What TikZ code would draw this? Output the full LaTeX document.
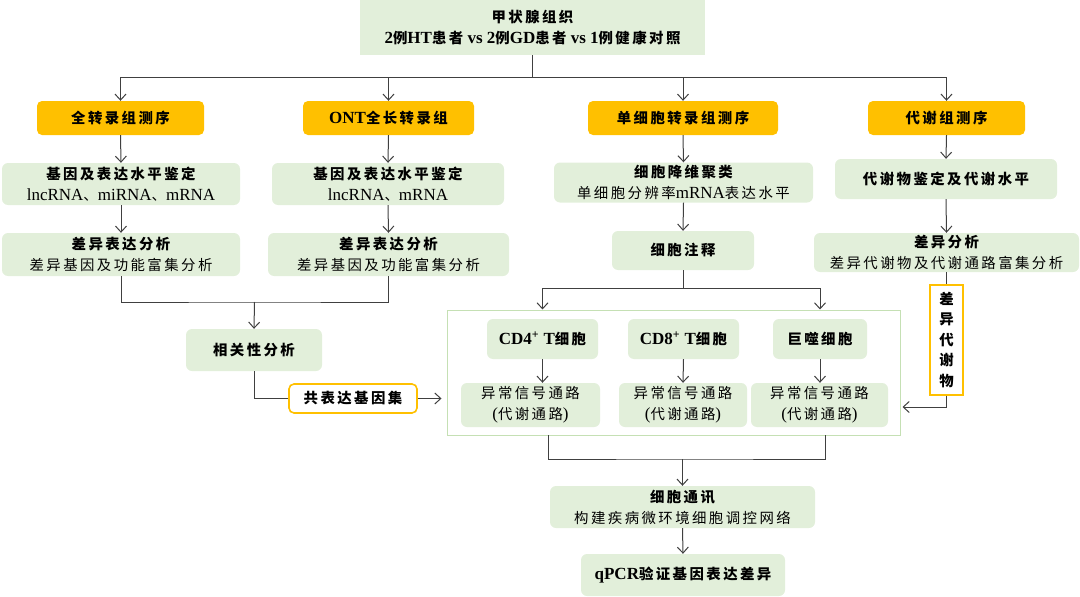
\documentclass[tikz,border=0pt]{standalone}
\usepackage{fontspec}
\setmainfont{Liberation Serif}
\newfontfamily\cjk{Noto Sans CJK SC}[Scale=0.847,LetterSpace=17]
\usetikzlibrary{arrows.meta,calc}
\definecolor{gfill}{HTML}{E2EFDA}
\definecolor{ofill}{HTML}{FFC000}
\definecolor{lcol}{HTML}{404040}
\definecolor{cborder}{HTML}{C5E0B4}
\newcommand{\zh}[1]{{\cjk #1}}
\begin{document}
\begin{tikzpicture}[x=1pt,y=-1pt,
  gbox/.style={fill=gfill,rounded corners=6pt,inner sep=0pt,align=center,font=\fontsize{17}{21}\selectfont,text=black},
  obox/.style={fill=ofill,rounded corners=5pt,inner sep=0pt,align=center,font=\fontsize{17}{21}\selectfont\bfseries,text=black,minimum height=34pt},
  wbox/.style={fill=white,draw=ofill,line width=1.6pt,rounded corners=5pt,inner sep=0pt,align=center,font=\fontsize{17}{21}\selectfont\bfseries,text=black},
  ln/.style={draw=lcol,line width=1pt},
  arr/.style={draw=lcol,line width=1pt,-{Straight Barb[length=6pt,width=11pt]}}]
\useasboundingbox (0,0) rectangle (1080,597);

% top
\node[gbox,rounded corners=0pt,minimum width=345pt,minimum height=55pt] (top) at (532.5,27.5)
  {\bfseries\zh{甲状腺组织}\\\bfseries 2\zh{例}HT\zh{患者} vs 2\zh{例}GD\zh{患者} vs 1\zh{例健康对照}};

% orange headers
\node[obox,minimum width=167pt] (o1) at (120.5,118) {\zh{全转录组测序}};
\node[obox,minimum width=171pt] (o2) at (388.5,118) {ONT\zh{全长转录组}};
\node[obox,minimum width=190pt] (o3) at (683,118) {\zh{单细胞转录组测序}};
\node[obox,minimum width=157pt] (o4) at (946.5,118) {\zh{代谢组测序}};

% row 1
\node[gbox,minimum width=238pt,minimum height=42pt] (g1) at (121,184)
  {\bfseries\zh{基因及表达水平鉴定}\\\mdseries lncRNA\zh{、}miRNA\zh{、}mRNA};
\node[gbox,minimum width=232pt,minimum height=42pt] (g2) at (388,184)
  {\bfseries\zh{基因及表达水平鉴定}\\\mdseries lncRNA\zh{、}mRNA};
\node[gbox,minimum width=259pt,minimum height=40pt] (g3) at (683.5,182.5)
  {\bfseries\zh{细胞降维聚类}\\\mdseries\zh{单细胞分辨率}mRNA\zh{表达水平}};
\node[gbox,minimum width=222pt,minimum height=40pt] (g4) at (946,179)
  {\bfseries\zh{代谢物鉴定及代谢水平}};

% row 2
\node[gbox,minimum width=238pt,minimum height=43pt] (g5) at (121,254.5)
  {\bfseries\zh{差异表达分析}\\\mdseries\zh{差异基因及功能富集分析}};
\node[gbox,minimum width=241pt,minimum height=43pt] (g6) at (388.5,254.5)
  {\bfseries\zh{差异表达分析}\\\mdseries\zh{差异基因及功能富集分析}};
\node[gbox,minimum width=142pt,minimum height=39pt] (g7) at (683,250.5)
  {\bfseries\zh{细胞注释}};
\node[gbox,minimum width=265pt,minimum height=39pt] (g8) at (946.5,252.5)
  {\bfseries\zh{差异分析}\\\mdseries\zh{差异代谢物及代谢通路富集分析}};

% correlation
\node[gbox,minimum width=136pt,minimum height=42pt] (cor) at (254,350) {\bfseries\zh{相关性分析}};
\node[wbox,minimum width=128pt,minimum height=29pt] (co) at (353,398.5) {\zh{共表达基因集}};

% container
\node[draw=cborder,line width=1pt,fill=white,inner sep=0pt,minimum width=453pt,minimum height=125pt] (cont) at (673.5,372.5) {};
\node[gbox,minimum width=111pt,minimum height=40pt] (cd4) at (542.5,339) {\bfseries CD4\textsuperscript{+} T\zh{细胞}};
\node[gbox,minimum width=111pt,minimum height=40pt] (cd8) at (683.5,339) {\bfseries CD8\textsuperscript{+} T\zh{细胞}};
\node[gbox,minimum width=94pt,minimum height=40pt] (mac) at (820,339) {\bfseries\zh{巨噬细胞}};
\node[gbox,minimum width=139pt,minimum height=44pt] (a1) at (530.5,405) {\zh{异常信号通路}\\(\zh{代谢通路})};
\node[gbox,minimum width=128pt,minimum height=44pt] (a2) at (683,405) {\zh{异常信号通路}\\(\zh{代谢通路})};
\node[gbox,minimum width=137pt,minimum height=44pt] (a3) at (819.5,405) {\zh{异常信号通路}\\(\zh{代谢通路})};

% differential metabolites vertical
\node[wbox,rounded corners=0pt,line width=1.4pt,minimum width=33pt,minimum height=110pt,font=\fontsize{17}{20.5}\selectfont\bfseries] (dm) at (946.5,340)
  {\zh{差}\\\zh{异}\\\zh{代}\\\zh{谢}\\\zh{物}};

% bottom
\node[gbox,minimum width=265pt,minimum height=42pt] (cc) at (682.5,507)
  {\bfseries\zh{细胞通讯}\\\mdseries\zh{构建疾病微环境细胞调控网络}};
\node[gbox,minimum width=204pt,minimum height=42pt] (qp) at (683,575)
  {\bfseries qPCR\zh{验证基因表达差异}};

% connectors top
\draw[arr] (top.south) -- ++(0,22) -| (o1.north);
\draw[arr] (top.south) -- ++(0,22) -| (o2.north);
\draw[arr] (top.south) -- ++(0,22) -| (o3.north);
\draw[arr] (top.south) -- ++(0,22) -| (o4.north);

\draw[arr] (o1.south) -- (g1.north);
\draw[arr] (o2.south) -- (g2.north);
\draw[arr] (o3.south) -- (g3.north);
\draw[arr] (o4.south) -- (g4.north);
\draw[arr] (g1.south) -- (g5.north);
\draw[arr] (g2.south) -- (g6.north);
\draw[arr] (g3.south) -- (g7.north);
\draw[arr] (g4.south) -- (g8.north);

% merge left
\coordinate (mj) at (254.5,302);
\draw[ln] (g5.south) |- (mj) -| (g6.south);
\draw[arr] (mj) -- (cor.north);
\draw[ln] (cor.south) |- (co.west);
\draw[arr,shorten >=5pt] (co.east) -- (co.east -| cont.west);

% single-cell split
\draw[arr] (g7.south) -- ++(0,18) -| (cd4 |- cont.north);
\draw[arr] (g7.south) -- ++(0,18) -| (mac |- cont.north);
\draw[arr] (cd4.south) -- (cd4.south |- a1.north);
\draw[arr] (cd8.south) -- (a2.north);
\draw[arr] (mac.south) -- (mac.south |- a3.north);

% metabolites
\draw[ln] (g8.south) -- (dm.north);
\draw[arr,shorten >=2pt] (dm.south) |- ([yshift=-34.5pt]cont.east);

% bottom merge
\coordinate (bl) at (548,435);
\coordinate (br) at (825,435);
\coordinate (bj) at (682.5,459);
\draw[ln] (bl) |- (bj) -| (br);
\draw[arr] (bj) -- (cc.north);
\draw[arr] (cc.south) -- (qp.north);
\end{tikzpicture}
\end{document}
